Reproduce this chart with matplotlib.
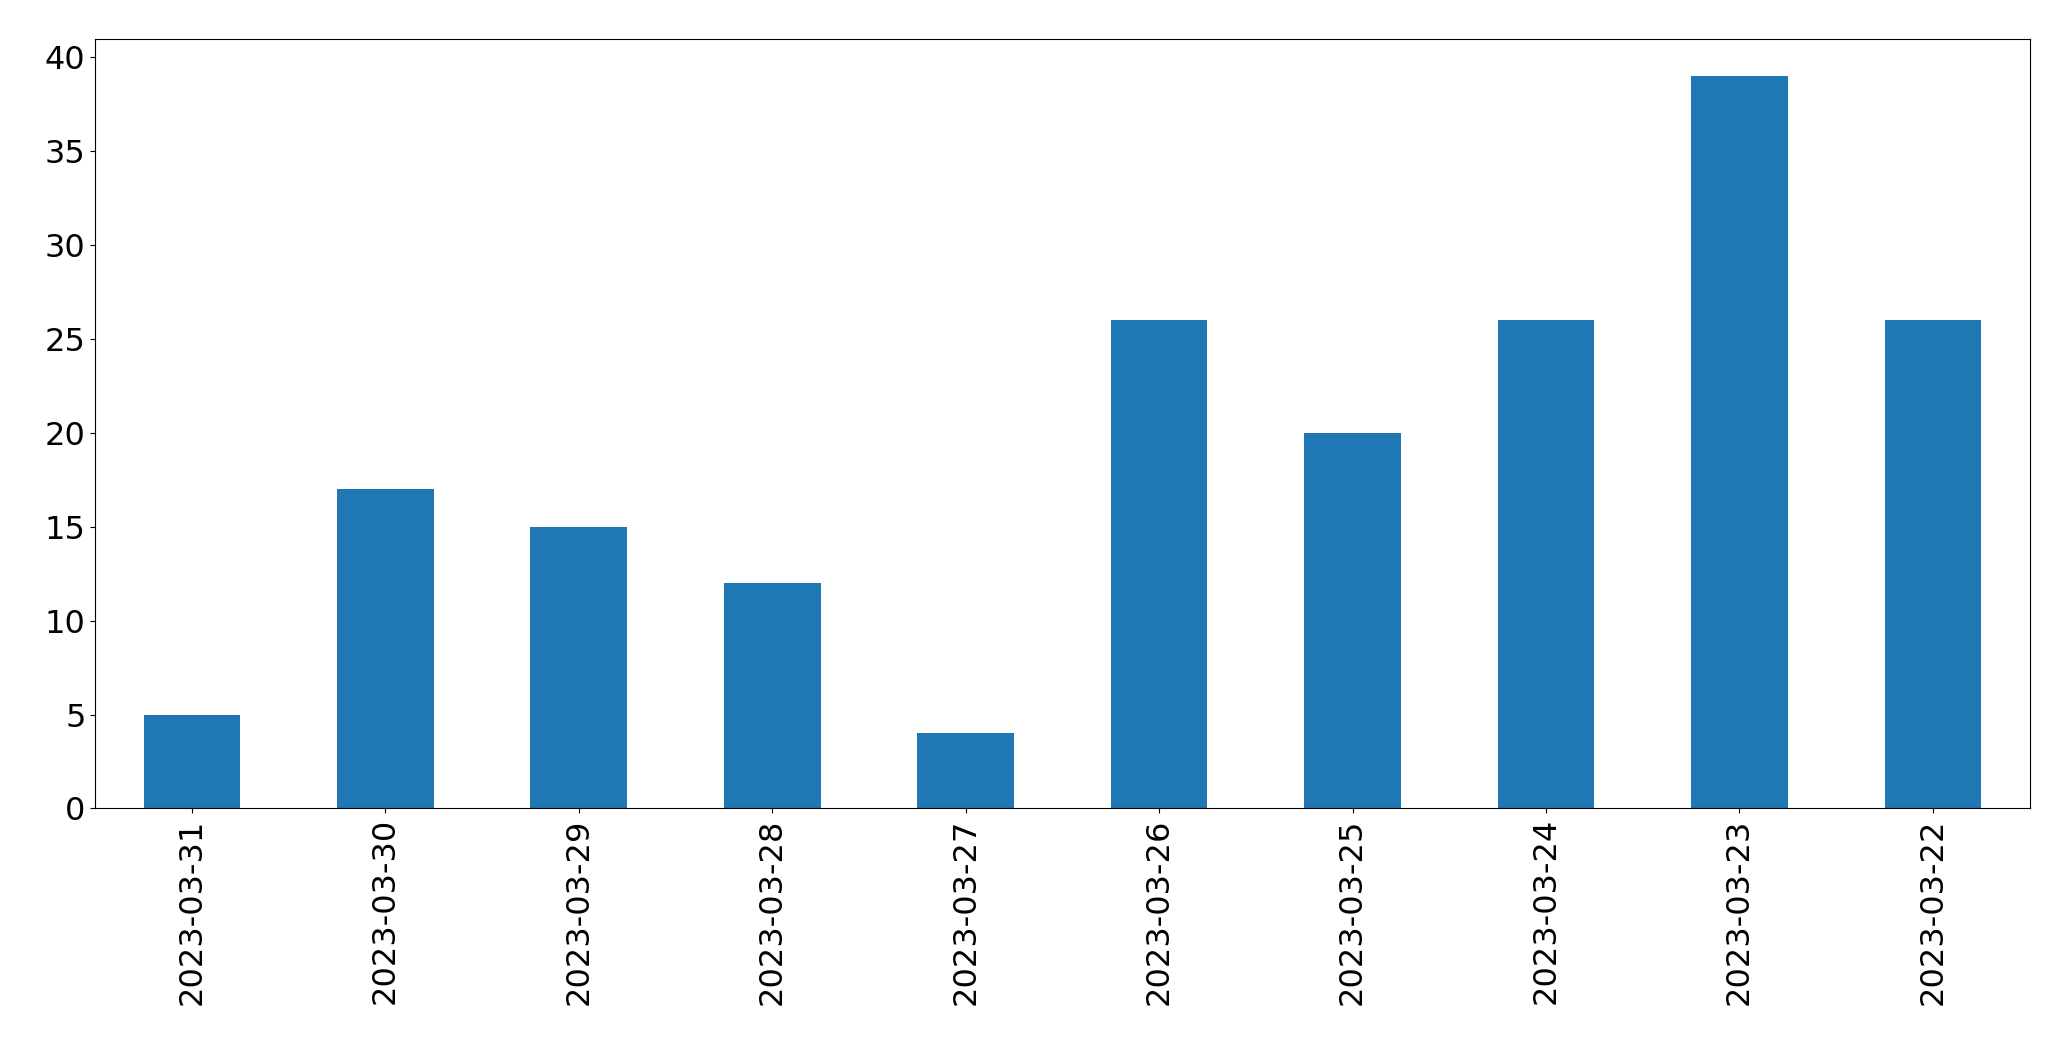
import matplotlib
matplotlib.use("Agg")
import matplotlib.pyplot as plt
import pandas as pd

dates = ["2023-03-31","2023-03-30","2023-03-29","2023-03-28","2023-03-27",
         "2023-03-26","2023-03-25","2023-03-24","2023-03-23","2023-03-22"]
counts = [5, 17, 15, 12, 4, 26, 20, 26, 39, 26]

fig = plt.figure(figsize=(20.71, 10.61), dpi=100)
ax = fig.add_axes([0.046, 0.238, 0.934, 0.725])
pd.Series(counts, index=dates).plot.bar(ax=ax, color="#1f77b4", width=0.5)
ax.tick_params(labelsize=23)
ax.set_yticks(range(0, 41, 5))
fig.savefig("out.png", dpi=100)
